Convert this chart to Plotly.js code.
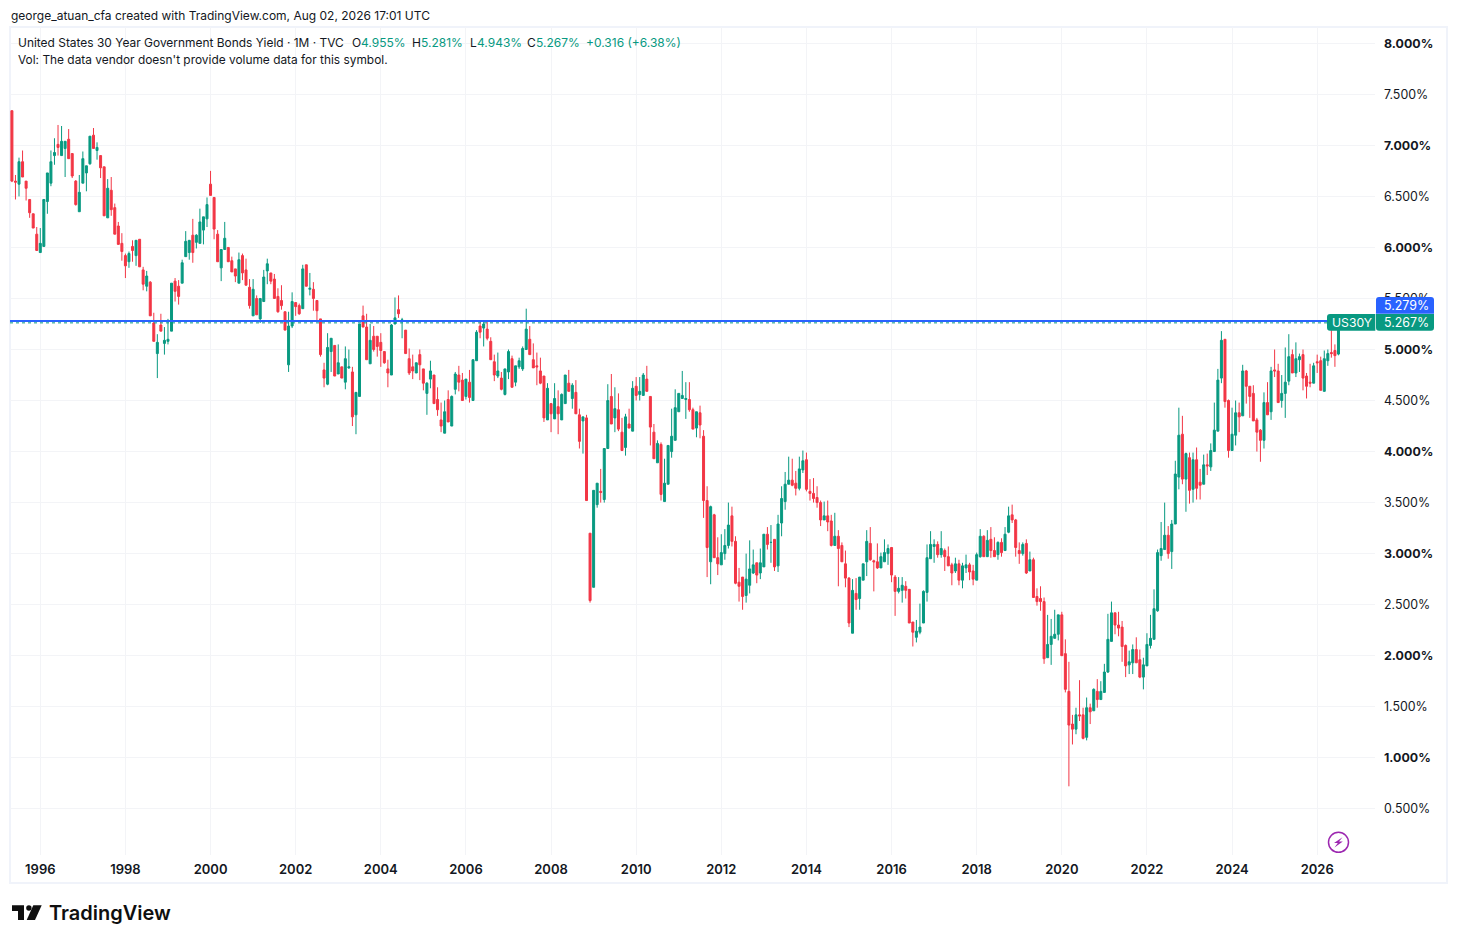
<!DOCTYPE html>
<html>
<head>
<meta charset="utf-8">
<title>US30Y</title>
<script src="https://cdn.plot.ly/plotly-3.0.1.min.js"></script>
<style>
  html, body { margin: 0; padding: 0; background: #fff; }
  #chart { width: 1457px; height: 943px; }
</style>
</head>
<body>
<div id="chart"></div>
<script>
"use strict";

// monthly candles, May 1995 to Jul 2026
const opens = [
  7.34,6.65,6.62,6.84,6.65,6.47,6.33,6.13,5.95,6.01,
  6.45,6.63,6.90,7.01,6.90,6.97,7.06,6.92,6.65,6.35,
  6.63,6.73,6.82,7.10,6.95,6.90,6.79,6.29,6.56,6.39,
  6.21,6.04,5.92,5.86,6.01,5.92,6.08,5.78,5.62,5.66,
  5.26,4.96,5.24,5.06,5.08,5.18,5.67,5.62,5.65,5.91,
  5.95,6.12,6.05,6.04,6.17,6.28,6.62,6.49,6.13,5.80,
  5.98,6.00,5.87,5.79,5.65,
  5.92,5.78,5.61,5.33,5.50,5.30,5.47,5.77,5.75,5.69,
  5.52,5.48,5.37,4.85,5.23,5.46,5.43,5.40,5.83,5.59,
  5.59,5.48,5.30,4.80,4.66,4.98,5.04,4.76,4.83,4.68,
  4.82,4.78,4.36,4.54,5.33,5.22,4.86,5.13,5.13,5.07,
  4.98,4.81,4.75,5.25,5.39,5.28,5.19,4.91,4.83,4.77,
  4.95,4.81,4.57,4.71,4.75,4.51,4.31,4.18,4.51,4.25,
  4.61,4.75,4.70,4.54,4.68,
  4.50,4.89,5.23,5.21,5.20,5.08,4.88,4.74,4.72,4.56,
  4.78,4.91,4.68,4.83,4.81,5.00,5.10,4.90,4.84,4.79,
  4.74,4.31,4.47,4.32,4.44,4.31,4.47,4.67,4.52,4.58,
  4.36,4.30,4.33,3.20,2.67,3.48,3.61,3.53,4.03,4.54,
  4.33,4.41,4.19,4.04,4.27,4.20,4.64,4.56,4.55,4.71,
  4.54,4.19,3.89,4.07,3.51,3.68,4.00,4.11,4.39,4.52,
  4.51,4.51,4.41,4.23,
  4.38,4.15,3.52,2.92,3.38,2.96,2.89,3.00,3.08,3.37,
  3.12,2.72,2.77,2.59,2.69,2.81,2.91,2.81,2.87,3.19,
  3.11,3.14,2.88,3.30,3.51,3.68,3.72,3.69,3.64,3.82,
  3.92,3.61,3.59,3.55,3.50,3.33,3.37,3.32,3.08,3.17,
  3.08,2.90,2.76,2.22,2.61,2.56,2.74,2.92,3.10,2.93,
  2.92,2.86,2.92,3.00,3.06,2.77,2.63,2.64,2.68,2.65,
  2.33,2.18,2.23,2.32,2.62,
  2.95,3.07,3.09,2.99,3.03,2.97,2.89,2.83,2.90,2.74,
  2.86,2.89,2.83,2.74,2.97,3.17,2.97,3.14,3.03,2.99,
  3.11,3.03,3.21,3.38,3.33,3.03,3.00,3.10,2.83,2.94,
  2.58,2.56,2.53,1.98,2.11,2.17,2.21,2.40,2.02,1.65,
  1.33,1.28,1.42,1.42,1.20,1.49,1.46,1.65,1.57,1.64,
  1.84,2.14,2.42,2.30,2.28,2.10,1.91,1.93,2.06,1.96,
  1.79,1.90,2.10,2.16,2.44,
  2.98,3.04,3.18,3.02,3.29,3.75,4.17,3.73,3.94,3.63,
  3.92,3.70,3.68,3.87,3.85,4.00,4.20,4.72,5.10,4.50,
  4.01,4.16,4.38,4.35,4.79,4.64,4.57,4.31,4.21,4.11,
  4.48,4.39,4.80,4.79,4.50,4.57,4.69,4.95,4.77,4.90,
  4.95,4.74,4.68,4.67,4.88,4.89,4.59,4.89,4.97,4.99,
  4.955
];

const highs = [
  7.34,6.71,6.88,6.95,6.65,6.47,6.33,6.20,6.19,6.47,
  6.73,6.95,7.07,7.20,7.19,7.04,7.16,6.92,6.66,6.71,
  6.94,6.80,7.09,7.17,7.03,6.90,6.79,6.67,6.69,6.43,
  6.25,6.14,5.94,5.96,6.07,6.07,6.08,5.81,5.77,5.67,
  5.36,5.15,5.35,5.22,5.30,5.65,5.70,5.68,5.88,6.16,
  6.07,6.28,6.13,6.38,6.30,6.49,6.75,6.49,6.17,5.98,
  6.25,6.00,5.91,5.79,5.95,
  5.94,5.89,5.69,5.69,5.53,5.50,5.78,5.89,5.75,5.74,
  5.60,5.63,5.37,5.37,5.56,5.46,5.45,5.83,5.83,5.75,
  5.66,5.48,5.30,4.87,5.16,5.11,5.04,5.05,4.83,5.03,
  5.00,4.83,4.58,5.25,5.43,5.35,5.25,5.23,5.13,5.16,
  4.98,4.90,5.25,5.51,5.53,5.31,5.19,5.01,4.95,4.87,
  5.00,4.81,4.68,4.89,4.75,4.63,4.48,4.50,4.60,4.55,
  4.78,4.84,4.77,4.71,4.80,
  4.90,5.19,5.27,5.28,5.27,5.12,4.95,4.97,4.78,4.81,
  5.00,4.94,4.84,4.92,5.03,5.40,5.23,5.06,4.97,4.92,
  4.74,4.67,4.47,4.67,4.60,4.57,4.75,4.80,4.67,4.70,
  4.42,4.34,4.36,3.20,3.62,3.69,3.83,4.03,4.66,4.76,
  4.63,4.57,4.33,4.37,4.42,4.69,4.73,4.73,4.77,4.84,
  4.54,4.27,4.11,4.09,3.93,4.06,4.42,4.61,4.57,4.79,
  4.68,4.68,4.43,4.39,
  4.45,4.21,3.66,3.47,3.39,3.16,3.19,3.24,3.50,3.46,
  3.17,2.86,2.77,3.00,3.13,3.04,2.91,3.05,3.19,3.26,
  3.28,3.14,3.38,3.66,3.80,3.95,3.93,3.81,3.95,4.01,
  3.99,3.73,3.74,3.66,3.52,3.51,3.52,3.38,3.40,3.23,
  3.11,3.03,2.77,2.75,2.76,2.77,2.90,3.23,3.26,2.94,
  3.10,3.01,3.14,3.09,3.06,2.79,2.77,2.77,2.73,2.65,
  2.33,2.35,2.51,2.64,3.09,
  3.22,3.14,3.12,3.22,3.05,3.07,2.91,2.96,2.94,2.91,
  2.99,2.91,2.89,3.01,3.24,3.18,3.23,3.26,3.16,3.12,
  3.15,3.26,3.46,3.48,3.34,3.11,3.11,3.14,3.02,2.96,
  2.66,2.68,2.57,2.40,2.36,2.45,2.40,2.43,2.16,1.94,
  1.42,1.49,1.76,1.49,1.59,1.53,1.68,1.77,1.75,1.92,
  2.41,2.53,2.42,2.43,2.34,2.11,2.05,2.11,2.18,2.06,
  1.98,2.22,2.40,2.65,3.04,
  3.31,3.50,3.27,3.33,3.91,4.43,4.35,3.99,3.99,3.99,
  4.04,3.83,3.97,3.98,4.08,4.48,4.81,5.18,5.10,4.51,
  4.43,4.50,4.48,4.85,4.80,4.64,4.65,4.33,4.22,4.58,
  4.68,4.83,5.00,4.86,4.75,5.02,5.15,5.00,5.07,4.96,
  5.00,4.77,4.86,4.87,4.95,4.93,4.99,5.00,5.19,5.05,
  5.281
];

const lows = [
  6.64,6.47,6.50,6.69,6.46,6.29,6.19,5.97,5.95,6.01,
  6.33,6.60,6.81,6.90,6.90,6.69,6.87,6.68,6.41,6.35,
  6.63,6.55,6.81,6.97,6.86,6.68,6.31,6.29,6.31,6.13,
  6.03,5.87,5.70,5.80,5.86,5.82,5.81,5.58,5.57,5.33,
  5.08,4.72,5.18,4.95,5.05,5.18,5.47,5.44,5.65,5.91,
  5.88,5.85,5.99,6.04,6.03,6.20,6.51,6.08,5.86,5.67,
  5.98,5.86,5.76,5.66,5.65,
  5.68,5.63,5.40,5.33,5.34,5.26,5.47,5.64,5.64,5.50,
  5.36,5.39,5.19,4.78,5.21,5.33,5.34,5.40,5.62,5.53,
  5.38,5.27,4.93,4.63,4.65,4.78,4.74,4.76,4.72,4.61,
  4.81,4.25,4.17,4.54,5.22,4.90,4.86,4.98,4.93,4.83,
  4.86,4.63,4.75,5.25,5.31,5.11,4.96,4.75,4.71,4.77,
  4.70,4.60,4.36,4.62,4.47,4.35,4.19,4.18,4.29,4.25,
  4.56,4.59,4.50,4.51,4.48,
  4.50,4.89,5.11,5.03,5.09,4.90,4.69,4.72,4.60,4.55,
  4.71,4.63,4.64,4.81,4.79,5.00,4.95,4.82,4.65,4.66,
  4.29,4.31,4.19,4.32,4.17,4.31,4.47,4.59,4.42,4.37,
  4.03,3.98,3.52,2.52,2.67,3.45,3.50,3.50,4.03,4.27,
  4.19,4.20,4.01,3.96,4.23,4.20,4.50,4.50,4.55,4.59,
  4.06,3.93,3.89,3.52,3.51,3.68,3.94,4.11,4.39,4.52,
  4.32,4.39,4.22,4.14,
  4.13,3.35,2.77,2.70,2.96,2.79,2.89,2.94,3.05,3.07,
  2.70,2.53,2.45,2.52,2.61,2.80,2.71,2.75,2.87,3.04,
  2.91,2.83,2.82,3.17,3.43,3.68,3.66,3.57,3.62,3.79,
  3.61,3.52,3.50,3.45,3.27,3.33,3.22,3.07,3.08,2.68,
  2.92,2.67,2.28,2.22,2.45,2.45,2.74,2.78,2.93,2.63,
  2.85,2.86,2.92,2.89,2.72,2.39,2.61,2.52,2.56,2.32,
  2.09,2.13,2.21,2.32,2.53,
  2.95,2.91,2.96,2.96,2.83,2.88,2.69,2.81,2.69,2.66,
  2.81,2.74,2.69,2.74,2.96,2.97,2.97,2.96,2.97,2.94,
  2.97,3.03,3.20,3.30,2.97,2.90,2.98,2.80,2.83,2.57,
  2.49,2.44,1.92,1.98,1.91,2.17,2.15,2.00,1.64,0.72,
  1.13,1.23,1.36,1.18,1.17,1.33,1.46,1.49,1.57,1.64,
  1.83,2.14,2.21,2.19,1.94,1.79,1.82,1.82,1.93,1.78,
  1.67,1.90,2.07,2.16,2.43,
  2.93,3.04,2.95,2.85,3.29,3.63,3.68,3.41,3.49,3.50,
  3.53,3.53,3.68,3.77,3.81,4.00,4.20,4.67,4.43,3.94,
  4.01,4.06,4.19,4.35,4.47,4.33,4.30,4.00,3.90,4.03,
  4.36,4.31,4.73,4.48,4.43,4.33,4.65,4.77,4.73,4.78,
  4.60,4.52,4.63,4.67,4.77,4.60,4.59,4.84,4.92,4.83,
  4.943
];

const closes = [
  6.65,6.64,6.84,6.69,6.58,6.34,6.19,5.97,6.04,6.47,
  6.73,6.84,6.93,6.98,7.04,7.04,6.87,6.70,6.42,6.54,
  6.87,6.80,7.09,6.97,6.98,6.78,6.31,6.58,6.37,6.13,
  6.03,5.96,5.82,5.94,5.97,6.07,5.81,5.64,5.72,5.33,
  5.08,5.07,5.18,5.09,5.10,5.65,5.57,5.52,5.85,6.06,
  6.07,5.95,6.12,6.25,6.30,6.42,6.51,6.18,5.86,5.98,
  6.09,5.86,5.76,5.72,5.88,
  5.75,5.63,5.43,5.59,5.34,5.50,5.71,5.84,5.67,5.50,
  5.37,5.43,5.19,5.23,5.47,5.42,5.35,5.79,5.62,5.60,
  5.50,5.38,4.95,4.72,5.02,5.11,4.74,4.87,4.72,4.91,
  4.83,4.34,4.58,5.25,5.22,4.90,5.09,5.00,5.03,4.99,
  4.87,4.77,5.24,5.31,5.35,5.29,4.96,4.77,4.79,4.87,
  4.85,4.67,4.67,4.79,4.47,4.41,4.25,4.39,4.29,4.54,
  4.76,4.68,4.50,4.71,4.53,
  4.90,5.17,5.17,5.25,5.11,4.90,4.75,4.79,4.61,4.81,
  4.98,4.63,4.84,4.89,5.01,5.20,4.95,4.82,4.83,4.67,
  4.33,4.62,4.37,4.52,4.37,4.56,4.75,4.59,4.65,4.37,
  4.10,4.34,3.52,2.54,3.62,3.69,3.60,4.03,4.50,4.27,
  4.42,4.22,4.01,4.34,4.23,4.62,4.55,4.59,4.75,4.59,
  4.24,3.93,4.08,3.58,3.69,4.06,4.15,4.43,4.57,4.55,
  4.52,4.41,4.22,4.39,
  4.26,3.52,3.06,3.46,2.96,2.90,3.01,3.08,3.28,3.12,
  2.71,2.68,2.58,2.75,2.85,2.89,2.79,2.91,3.19,3.09,
  3.11,2.87,3.29,3.54,3.68,3.72,3.67,3.64,3.83,3.91,
  3.63,3.59,3.54,3.50,3.33,3.37,3.31,3.08,3.17,3.05,
  2.92,2.76,2.32,2.64,2.55,2.77,2.90,3.12,2.94,2.92,
  2.86,2.97,3.01,3.05,2.79,2.63,2.66,2.69,2.64,2.32,
  2.23,2.24,2.28,2.63,2.96,
  3.09,3.09,2.99,3.05,2.97,2.88,2.81,2.90,2.74,2.88,
  2.89,2.82,2.75,2.99,3.17,2.97,3.13,3.03,2.97,3.11,
  3.01,3.19,3.37,3.33,3.06,3.00,3.09,2.81,2.94,2.57,
  2.53,2.53,1.97,2.11,2.19,2.21,2.40,2.00,1.67,1.32,
  1.28,1.42,1.41,1.19,1.49,1.45,1.67,1.57,1.65,1.84,
  2.16,2.42,2.30,2.27,2.09,1.90,1.94,2.06,1.93,1.79,
  1.91,2.11,2.17,2.46,3.01,
  3.05,3.18,3.00,3.29,3.78,4.16,3.73,3.98,3.62,3.92,
  3.64,3.67,3.87,3.86,4.01,4.21,4.70,5.09,4.49,4.01,
  4.17,4.38,4.34,4.79,4.64,4.54,4.30,4.19,4.11,4.48,
  4.36,4.79,4.79,4.48,4.57,4.68,4.93,4.77,4.91,4.93,
  4.72,4.64,4.67,4.84,4.87,4.60,4.91,4.96,4.96,4.94,
  5.267
];

const yearTicks = [1996,1998,2000,2002,2004,2006,2008,2010,2012,2014,2016,2018,2020,2022,2024,2026];
const priceTicks = [0.5,1,1.5,2,2.5,3,3.5,4,4.5,5,5.5,6,6.5,7,7.5,8];

const lastPrice = 5.267;
const bluePrice = 5.279;

const GREEN = "#089981";
const RED = "#F23645";
const BLUE = "#2962FF";
const GRID = "#F3F4F7";
const FRAME = "#F0F3FA";
const TEXT = "#131722";
const PURPLE = "#9C27B0";
const FONT = "Inter, 'Noto Sans', sans-serif";

// month labels on a category axis, so every month gets the same width
const months = [];
for (let i = 0; i < opens.length; i++) {
  const m = 4 + i; // May 1995 is month 4
  const year = 1995 + Math.floor(m / 12);
  const month = (m % 12) + 1;
  months.push(year + "-" + String(month).padStart(2, "0"));
}

// plot box in page pixels
const BOX = { left: 10, right: 1375, top: 27, bottom: 855 };
const W = 1457;
const H = 943;

function px(x) {
  return (x - BOX.left) / (BOX.right - BOX.left);
}
function py(y) {
  return 1 - (y - BOX.top) / (BOX.bottom - BOX.top);
}

function pathFrom(points) {
  return "M" + points.map((p) => px(p[0]) + "," + py(p[1])).join("L") + "Z";
}

// rounded corners only where asked: [tl, tr, br, bl]
function roundRect(x0, y0, x1, y1, r) {
  const p = (x, y) => px(x) + "," + py(y);
  return (
    "M" + p(x0 + r[0], y0) +
    "L" + p(x1 - r[1], y0) + "Q" + p(x1, y0) + " " + p(x1, y0 + r[1]) +
    "L" + p(x1, y1 - r[2]) + "Q" + p(x1, y1) + " " + p(x1 - r[2], y1) +
    "L" + p(x0 + r[3], y1) + "Q" + p(x0, y1) + " " + p(x0, y1 - r[3]) +
    "L" + p(x0, y0 + r[0]) + "Q" + p(x0, y0) + " " + p(x0 + r[0], y0) + "Z"
  );
}

function paperShape(path, fill) {
  return {
    type: "path", xref: "paper", yref: "paper", path: path,
    fillcolor: fill, line: { width: 0 }, layer: "above",
  };
}

function label(text, x, y, size, color, anchor) {
  return {
    xref: "paper", yref: "paper", x: px(x), y: py(y),
    xanchor: anchor || "left", yanchor: "middle",
    text: text, showarrow: false, borderpad: 0,
    font: { family: FONT, size: size, color: color || TEXT },
  };
}

const shapes = [
  // outer frame
  {
    type: "rect", xref: "paper", yref: "paper",
    x0: px(10), x1: px(1447), y0: py(27), y1: py(883),
    line: { color: FRAME, width: 2 }, layer: "below",
  },
  // last price lines
  {
    type: "line", xref: "paper", yref: "y", x0: 0, x1: 1,
    y0: lastPrice - 0.006, y1: lastPrice - 0.006,
    line: { color: GREEN, width: 1, dash: "dot" }, layer: "above",
  },
  {
    type: "line", xref: "paper", yref: "y", x0: 0, x1: 1,
    y0: bluePrice, y1: bluePrice,
    line: { color: BLUE, width: 2 }, layer: "above",
  },
  // price labels
  paperShape(roundRect(1376, 297, 1434, 313.7, [3, 3, 0, 0]), BLUE),
  paperShape(roundRect(1376, 313.9, 1434, 330.7, [0, 0, 3, 3]), GREEN),
  paperShape(roundRect(1327, 313.9, 1375.3, 330.7, [3, 0, 0, 3]), GREEN),
  // lightning badge
  {
    type: "circle", xref: "paper", yref: "paper",
    x0: px(1328.5), x1: px(1348.5), y0: py(832.3), y1: py(852.3),
    line: { color: PURPLE, width: 1.5 }, fillcolor: "rgba(0,0,0,0)", layer: "above",
  },
  paperShape(
    pathFrom([[1342.5, 837.3], [1334, 843], [1337.8, 843], [1334.5, 847.5], [1342.8, 841.6], [1339, 841.6]]),
    PURPLE
  ),
  // TradingView mark
  paperShape(pathFrom([[12, 905.3], [24, 905.3], [24, 920], [18, 920], [18, 911], [12, 911]]), "#0F0F0F"),
  paperShape(pathFrom([[33.3, 905.3], [41.7, 905.3], [35, 920], [26.7, 920]]), "#0F0F0F"),
  {
    type: "circle", xref: "paper", yref: "paper",
    x0: px(26.2), x1: px(31.6), y0: py(905.3), y1: py(910.7),
    fillcolor: "#0F0F0F", line: { width: 0 }, layer: "above",
  },
];

const annotations = [
  label("george_atuan_cfa created with TradingView.com, Aug 02, 2026 17:01 UTC", 9.5, 15.5, 12),
  label("United States 30 Year Government Bonds Yield · 1M · TVC", 17, 42.5, 11.95),
  label("O", 351, 42.5, 12),
  label(opens[opens.length - 1].toFixed(3) + "%", 360, 42.5, 12, GREEN),
  label("H", 411, 42.5, 12),
  label(highs[highs.length - 1].toFixed(3) + "%", 420, 42.5, 12, GREEN),
  label("L", 469, 42.5, 12),
  label(lows[lows.length - 1].toFixed(3) + "%", 476, 42.5, 12, GREEN),
  label("C", 526, 42.5, 12),
  label(closes[closes.length - 1].toFixed(3) + "%", 535, 42.5, 12, GREEN),
  label("+0.316 (+6.38%)", 585, 42.5, 12, GREEN),
  label("Vol: The data vendor doesn't provide volume data for this symbol.", 17, 59.5, 11.9),
  label(bluePrice.toFixed(3) + "%", 1406, 305.5, 12.4, "#FFFFFF", "center"),
  label(lastPrice.toFixed(3) + "%", 1406, 322.5, 12.4, "#FFFFFF", "center"),
  label("US30Y", 1351.5, 322.5, 12.2, "#FFFFFF", "center"),
  {
    xref: "paper", yref: "paper", x: px(47.5), y: py(913), xanchor: "left", yanchor: "middle",
    text: "TradingView", showarrow: false, borderpad: 0,
    font: { family: FONT, size: 20, color: "#0F0F0F", weight: 600 },
  },
];

const data = [
  {
    type: "candlestick",
    x: months,
    open: opens,
    high: highs,
    low: lows,
    close: closes,
    whiskerwidth: 0,
    increasing: { line: { color: GREEN, width: 1 }, fillcolor: GREEN },
    decreasing: { line: { color: RED, width: 1 }, fillcolor: RED },
    hoverinfo: "skip",
  },
];

const layout = {
  width: W,
  height: H,
  autosize: false,
  margin: { l: BOX.left, r: W - BOX.right, t: BOX.top, b: H - BOX.bottom, pad: 0 },
  paper_bgcolor: "#FFFFFF",
  plot_bgcolor: "#FFFFFF",
  showlegend: false,
  boxgap: 0.2,
  shapes,
  annotations,
  xaxis: {
    type: "category",
    categoryorder: "trace",
    range: [-0.54, 384.3],
    rangeslider: { visible: false },
    tickmode: "array",
    tickvals: yearTicks.map((y) => y + "-01"),
    ticktext: yearTicks.map(String),
    tickfont: { family: FONT, size: 13, color: TEXT, weight: 600 },
    ticks: "",
    ticklabelstandoff: 5,
    showgrid: true,
    gridcolor: GRID,
    gridwidth: 1,
    zeroline: false,
    showline: false,
  },
  yaxis: {
    side: "right",
    range: [0.047, 8.16],
    tickmode: "array",
    tickvals: priceTicks,
    ticktext: priceTicks.map((v) =>
      Number.isInteger(v) ? "<b>" + v.toFixed(3) + "%</b>" : v.toFixed(3) + "%"
    ),
    tickfont: { family: FONT, size: 12.4, color: TEXT },
    ticks: "",
    ticklabelstandoff: 8,
    showgrid: true,
    gridcolor: GRID,
    gridwidth: 1,
    zeroline: false,
    showline: false,
  },
};

Plotly.newPlot("chart", data, layout, { displayModeBar: false, staticPlot: true });
</script>
</body>
</html>
